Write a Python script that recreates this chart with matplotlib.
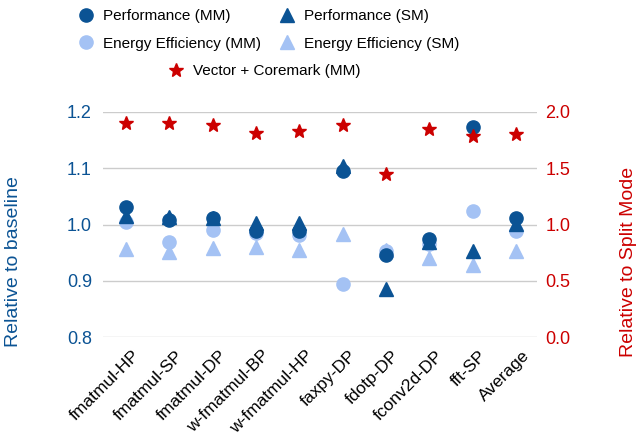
import matplotlib
matplotlib.use('Agg')
import matplotlib.pyplot as plt
import matplotlib.transforms as mtransforms
from matplotlib.lines import Line2D
import numpy as np

plt.rcParams['font.family'] = ['Liberation Sans', 'DejaVu Sans']

# benchmark names
labels = ['fmatmul-HP', 'fmatmul-SP', 'fmatmul-DP', 'w-fmatmul-BP', 'w-fmatmul-HP',
          'faxpy-DP', 'fdotp-DP', 'fconv2d-DP', 'fft-SP', 'Average']

# left axis (relative to baseline)
perf_mm = [1.031, 1.008, 1.011, 0.989, 0.989, 1.095, 0.946, 0.975, 1.173, 1.012]
perf_sm = [1.016, 1.013, 1.012, 1.002, 1.002, 1.104, 0.886, 0.970, 0.954, 1.001]
ee_mm = [1.005, 0.970, 0.991, 0.985, 0.981, 0.895, 0.954, 0.965, 1.025, 0.988]
ee_sm = [0.957, 0.952, 0.958, 0.960, 0.955, 0.983, 0.955, 0.941, 0.929, 0.954]

# right axis (relative to split mode)
vec_core = [1.90, 1.90, 1.88, 1.81, 1.83, 1.88, 1.45, 1.85, 1.79, 1.80]

dark = '#0b5394'
light = '#a4c2f4'
red = '#cc0000'

fig = plt.figure(figsize=(6.4, 4.37), dpi=100)
ax = fig.add_axes([0.161, 0.228, 0.678, 0.516])
ax2 = ax.twinx()

x = np.arange(len(labels))
ms = 9.5
ax.plot(x, ee_sm, '^', color=light, ms=ms, zorder=2, clip_on=False)
ax.plot(x, ee_mm, 'o', color=light, ms=ms, zorder=3, clip_on=False)
ax.plot(x, perf_sm, '^', color=dark, ms=ms, zorder=4, clip_on=False)
ax.plot(x, perf_mm, 'o', color=dark, ms=ms, zorder=5, clip_on=False)
ax2.plot(x, vec_core, '*', color=red, ms=10.5, clip_on=False)

ax.set_ylim(0.8, 1.2)
ax.set_yticks([0.8, 0.9, 1.0, 1.1, 1.2])
ax.set_yticklabels(['0.8', '0.9', '1.0', '1.1', '1.2'])
ax2.set_ylim(0, 2.0)
ax2.set_yticks([0, 0.5, 1.0, 1.5, 2.0])
ax2.set_yticklabels(['0.0', '0.5', '1.0', '1.5', '2.0'])
ax.set_xlim(-0.53, 9.485)
ax.set_xticks(x)

for a in (ax, ax2):
    for s in a.spines.values():
        s.set_visible(False)
ax.yaxis.grid(True, color='#cccccc', lw=1)
ax.set_axisbelow(True)
ax.tick_params(axis='both', length=0)
ax2.tick_params(axis='both', length=0)
ax.tick_params(axis='y', labelcolor=dark, labelsize=13, pad=8)
ax2.tick_params(axis='y', labelcolor=red, labelsize=13, pad=6)
ax.tick_params(axis='x', pad=4)

# x labels set after tick_params so the offset is kept
ax.set_xticklabels(labels, rotation=45, ha='right', rotation_mode='anchor', fontsize=12.5)
off = mtransforms.ScaledTranslation(6 / 100, -5 / 100, fig.dpi_scale_trans)
for t in ax.get_xticklabels():
    t.set_transform(t.get_transform() + off)

ax.set_ylabel('Relative to baseline', color=dark, fontsize=14)
ax.yaxis.set_label_coords(-0.187, 0.334)
ax2.set_ylabel('Relative to Split Mode', color=red, fontsize=14)
ax2.yaxis.set_label_coords(1.191, 0.334)

h = [Line2D([], [], ls='', marker='o', color=dark, ms=ms),
     Line2D([], [], ls='', marker='o', color=light, ms=ms),
     Line2D([], [], ls='', marker='^', color=dark, ms=ms),
     Line2D([], [], ls='', marker='^', color=light, ms=ms)]
names = ['Performance (MM)', 'Energy Efficiency (MM)', 'Performance (SM)', 'Energy Efficiency (SM)']
fig.legend(h, names, ncol=2, loc='upper left', bbox_to_anchor=(0.1227, 0.979),
           frameon=False, fontsize=11, handletextpad=0.62, columnspacing=1.2,
           labelspacing=0.88, handlelength=1.0, borderpad=0, borderaxespad=0)
star = Line2D([], [], ls='', marker='*', color=red, ms=10.5)
fig.legend([star], ['Vector + Coremark (MM)'], loc='upper left',
           bbox_to_anchor=(0.263, 0.853), frameon=False, fontsize=11,
           handletextpad=0.62, handlelength=1.0, borderpad=0, borderaxespad=0)

fig.savefig('out.png', dpi=100)
